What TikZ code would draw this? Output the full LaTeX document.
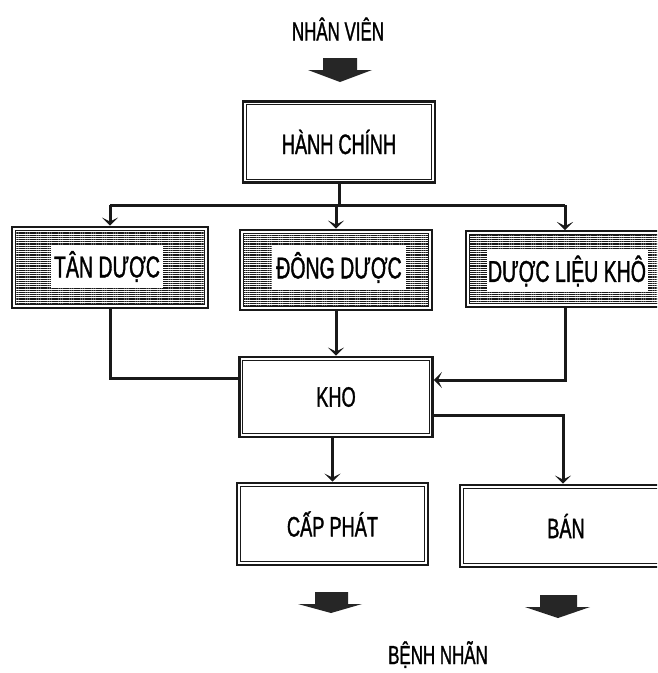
\documentclass[tikz,border=0pt]{standalone}
\usepackage{fontspec}
\setmainfont{Liberation Sans}[FakeStretch=0.65,FakeBold=1.2]
\usetikzlibrary{arrows.meta,patterns.meta}
\begin{document}
\begin{tikzpicture}[x=1pt,y=-1pt,
  conn/.style={draw=black!90, line width=3pt},
  arr/.style={-{Stealth[width=16pt,length=8pt,inset=4pt]}},
  dbox/.style={draw=black!90, line width=2.8pt, fill=white, inner sep=0pt, font=\fontsize{28}{30}\selectfont},
  hbox/.style={draw=black!90, line width=2.8pt, fill=white, inner sep=0pt},
  txtpanel/.style={fill=white, inner sep=0pt, font=\fontsize{30}{32}\selectfont},
  plaintext/.style={font=\fontsize{26}{28}\selectfont, inner sep=0pt},
  blockarrow/.style={fill=black!85},
  innerline/.style={draw=black!90, line width=1.1pt},
  hatch/.style={innerline, pattern={Lines[angle=0,distance=2.2pt,line width=1.3pt]}, pattern color=black!90},
]
\clip (0,0) rectangle (657,673);
\fill[white] (0,0) rectangle (657,673);

% top label and arrow
\node[plaintext] (nv) at (338,29) {NHÂN VIÊN};
\fill[blockarrow] (323,58) -- (357,58) -- (357,70) -- (372,70) -- (340,82) -- (308,70) -- (323,70) -- cycle;

% double-border boxes
\node[dbox, minimum width=192, minimum height=81] (hc) at (339,142) {HÀNH CHÍNH};
\node[dbox, minimum width=193, minimum height=80] (kho) at (336,397) {KHO};
\node[dbox, minimum width=191, minimum height=82] (cap) at (332.5,524) {CẤP PHÁT};
\node[dbox, minimum width=212, minimum height=82] (ban) at (566,526) {BÁN};
\foreach \n in {hc,kho,cap,ban}
  \draw[innerline] ([shift={(4.5pt,4.5pt)}]\n.south west) rectangle ([shift={(-4.5pt,-4.5pt)}]\n.north east);

% hatched boxes
\node[hbox, minimum width=196, minimum height=81] (tan) at (110,267.5) {};
\node[hbox, minimum width=192, minimum height=80] (dong) at (336,270) {};
\node[hbox, minimum width=200, minimum height=76] (dlk) at (566,269) {};
\foreach \n in {tan,dong,dlk}
  \draw[hatch] ([shift={(4.5pt,4.5pt)}]\n.south west) rectangle ([shift={(-4.5pt,-4.5pt)}]\n.north east);
\node[txtpanel, minimum width=112, minimum height=43] (tanp) at (107,266.5) {TÂN DƯỢC};
\node[txtpanel, minimum width=134, minimum height=45] (dongp) at (339,267.5) {ĐÔNG DƯỢC};
\node[txtpanel, minimum width=161, minimum height=42] (dlkp) at (567,271) {DƯỢC LIỆU KHÔ};

% bus from HÀNH CHÍNH
\coordinate (bus) at (338,205);
\draw[conn] (hc.south) -- (hc.south |- bus);
\draw[conn] (tan.north |- bus) -- (565,205);
\draw[conn, arr] (tan.north |- bus) -- (tan.north);
\draw[conn, arr] (dong.north |- bus) -- (dong.north);
\draw[conn, arr] (565,205) -- (565,230);

% into KHO
\draw[conn] (tan.south) |- ([yshift=19pt]kho.west);
\draw[conn, arr] (dong.south) -- (kho.north);
\draw[conn, arr] ([xshift=-1pt]dlk.south) |- ([yshift=17pt]kho.east);

% out of KHO
\draw[conn, arr] (cap.north |- kho.south) -- (cap.north);
\draw[conn, arr] ([yshift=-18pt]kho.east) -| ([xshift=-3pt]ban.north);

% bottom arrows and label
\fill[blockarrow] (315,592) -- (348,592) -- (348,604) -- (362,604) -- (331,613) -- (298,604) -- (315,604) -- cycle;
\fill[blockarrow] (540,595) -- (577,595) -- (577,607) -- (590,607) -- (558,618) -- (525,607) -- (540,607) -- cycle;
\node[plaintext, anchor=base] (bn) at (438,664) {BỆNH NHÃN};
\end{tikzpicture}
\end{document}
